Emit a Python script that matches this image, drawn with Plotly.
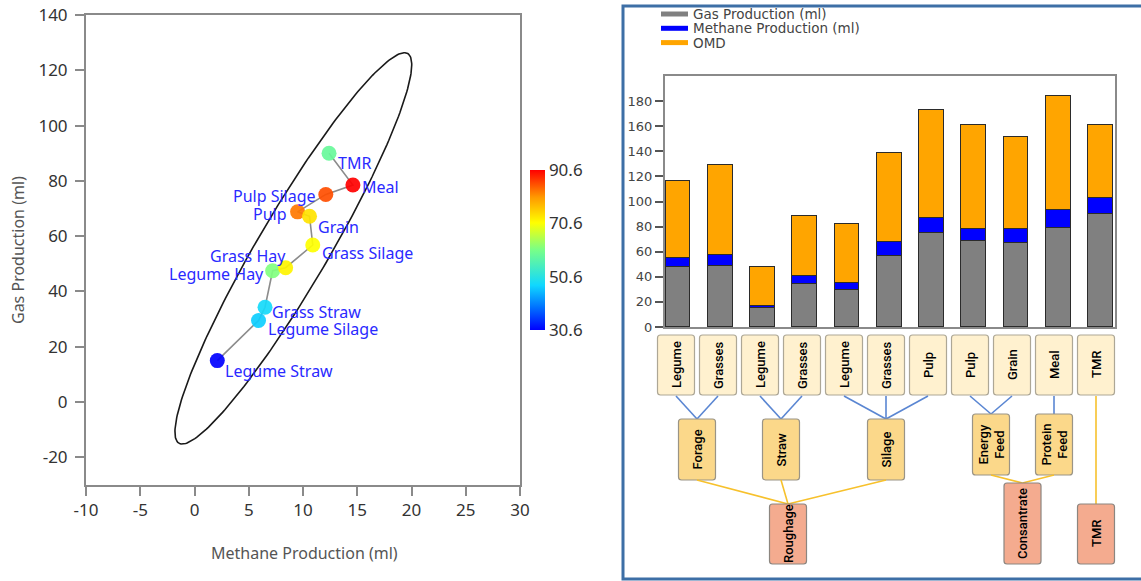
import numpy as np
import plotly.graph_objects as go

W, H = 1141, 581

# ---- data -------------------------------------------------------------
feed_names = ["Legume Hay", "Grass Hay", "Legume Straw", "Grass Straw", "Legume Silage",
              "Grass Silage", "Pulp Silage", "Pulp", "Grain", "Meal", "TMR"]
leaf_labels = ["Legume", "Grasses", "Legume", "Grasses", "Legume", "Grasses",
               "Pulp", "Pulp", "Grain", "Meal", "TMR"]
gas = [47.5, 48.6, 15.0, 34.3, 29.5, 56.8, 75.1, 68.8, 67.2, 78.5, 90.0]
methane = [7.2, 8.4, 2.1, 6.5, 5.9, 10.9, 12.1, 9.5, 10.6, 14.6, 12.4]
omd = [61.3, 71.8, 30.6, 48.0, 46.6, 70.7, 85.4, 82.6, 73.4, 90.6, 58.6]

group_names = ["Forage", "Straw", "Silage", "Energy<br>Feed", "Protein<br>Feed"]
group_members = [[0, 1], [2, 3], [4, 5, 6], [7, 8], [9]]
class_names = ["Roughage", "Consantrate", "TMR"]
class_members = [[0, 1, 2], [3, 4], []]
class_leaf = [None, None, 10]

x_ticks = list(range(-10, 31, 5))
y_ticks = list(range(-20, 141, 20))
omd_ticks = [30.6, 50.6, 70.6, 90.6]
bar_ticks = list(range(0, 181, 20))


def px(x):
    return x / W


def py(y):
    return 1 - y / H


fig = go.Figure()

# ---- left panel: methane vs gas, coloured by OMD -------------------------
xs, ys = np.array(methane), np.array(gas)
n = len(xs)
cov = np.cov(xs, ys)
m = n - 2
f95 = (m / 2) * (0.05 ** (-2 / m) - 1)          # F(0.95; 2, n-2)
k = np.sqrt(2 * (n - 1) / m * f95)
vals, vecs = np.linalg.eigh(cov)
t = np.linspace(0, 2 * np.pi, 240)
ring = vecs @ (np.sqrt(vals)[:, None] * np.vstack([np.cos(t), np.sin(t)])) * k
fig.add_trace(go.Scatter(x=xs.mean() + ring[0], y=ys.mean() + ring[1], mode="lines",
                         line=dict(color="#1a1a1a", width=1.6), hoverinfo="skip",
                         showlegend=False, xaxis="x", yaxis="y"))

order = np.argsort(gas)
fig.add_trace(go.Scatter(x=xs[order], y=ys[order], mode="lines",
                         line=dict(color="#8c8c8c", width=1.6), hoverinfo="skip",
                         showlegend=False, xaxis="x", yaxis="y"))

jet = [[0.0, "#0000ff"], [0.14, "#0070ff"], [0.28, "#10d8ff"], [0.5, "#78ff88"],
       [0.67, "#ffff00"], [0.83, "#ff9900"], [1.0, "#ff0000"]]
fig.add_trace(go.Scatter(
    x=methane, y=gas, mode="markers",
    marker=dict(size=15, color=omd, colorscale=jet, cmin=min(omd), cmax=max(omd), opacity=0.92,
                colorbar=dict(x=px(530), xanchor="left", thickness=15, len=160 / H,
                              xpad=0, ypad=0,
                              y=py(250), yanchor="middle", outlinewidth=0, ticks="",
                              tickvals=omd_ticks, ticktext=[f"{v:.1f}" for v in omd_ticks],
                              tickfont=dict(family="Noto Sans", size=17, color="#333"))),
    showlegend=False, hoverinfo="skip", xaxis="x", yaxis="y"))

# ---- right panel: stacked bars ------------------------------------------
cats = list(range(len(gas)))
bar_line = dict(color="#2b2b2b", width=1)
for vals_, col in [(gas, "#808080"), (methane, "#0000ff"), (omd, "#ffa500")]:
    fig.add_trace(go.Bar(x=cats, y=vals_, width=0.59, marker=dict(color=col, line=bar_line),
                         showlegend=False, xaxis="x2", yaxis="y2"))

axis_line = "#8a8a8a"
left_font = dict(family="Noto Sans", size=17, color="#333")
right_font = dict(family="DejaVu Sans", size=13, color="#444")

fig.update_layout(
    width=W, height=H, margin=dict(l=0, r=0, t=0, b=0, autoexpand=False),
    paper_bgcolor="white", plot_bgcolor="white", barmode="stack", bargap=0,
    xaxis=dict(domain=[px(86), px(520)], range=[-10, 30], tickvals=x_ticks,
               ticktext=[str(v) for v in x_ticks], automargin=False,
               showline=True, mirror=True, linecolor=axis_line, linewidth=2,
               ticks="outside", ticklen=9, tickwidth=2, tickcolor=axis_line,
               showgrid=False, zeroline=False, tickfont=left_font, anchor="y"),
    yaxis=dict(domain=[py(485), py(15)], range=[-30, 140], tickvals=y_ticks,
               ticktext=[str(v) for v in y_ticks], automargin=False,
               showline=True, mirror=True, linecolor=axis_line, linewidth=2,
               ticks="outside", ticklen=9, tickwidth=2, tickcolor=axis_line,
               showgrid=False, zeroline=False, tickfont=left_font, anchor="x",
               ticklabelstandoff=4),
    xaxis2=dict(domain=[px(665), px(1115)], range=[-0.308, 10.343], showticklabels=False,
                showline=True, mirror=True, linecolor=axis_line, linewidth=2, automargin=False,
                ticks="", showgrid=False, zeroline=False, anchor="y2"),
    yaxis2=dict(domain=[py(327), py(76)], range=[0, 200], tickvals=bar_ticks, automargin=False,
                showline=True, mirror=True, linecolor=axis_line, linewidth=2,
                ticks="outside", ticklen=8, tickwidth=1.5, tickcolor="#555",
                showgrid=False, zeroline=False, tickfont=right_font, anchor="x2"),
)

shapes, annotations = [], []

# point labels beside each feed
label_offset = {"TMR": ("left", 7, -10), "Meal": ("left", 7, -2),
                "Pulp Silage": ("right", -8, -2), "Pulp": ("right", -9, -2),
                "Grain": ("left", 6, -11), "Grass Silage": ("left", 7, -8),
                "Grass Hay": ("right", 2, 12), "Legume Hay": ("right", -7, -3),
                "Grass Straw": ("left", 5, -5), "Legume Silage": ("left", 7, -8),
                "Legume Straw": ("left", 6, -10)}
for name, mx, gy in zip(feed_names, methane, gas):
    anchor, dx, dy = label_offset[name]
    annotations.append(dict(x=mx, y=gy, xref="x", yref="y", text=name, showarrow=False,
                            xanchor=anchor, yanchor="middle", xshift=dx, yshift=dy,
                            font=dict(family="Noto Sans", size=16, color="#2a2aff")))

# axis titles of the left panel
annotations.append(dict(x=px(18), y=py(250), xref="paper", yref="paper", showarrow=False,
                        xanchor="center", yanchor="middle",
                        text="Gas Production (ml)", textangle=-90,
                        font=dict(family="Noto Sans", size=16, color="#555")))
annotations.append(dict(x=px(304), y=py(553), xref="paper", yref="paper", showarrow=False,
                        xanchor="center", yanchor="middle",
                        text="Methane Production (ml)",
                        font=dict(family="Noto Sans", size=16, color="#555")))

# frame around the right panel
shapes.append(dict(type="rect", xref="paper", yref="paper", x0=px(623), x1=px(1150),
                   y0=py(579), y1=py(6), line=dict(color="#3d6fa6", width=3)))

# legend of the bar chart
series_names = ["Gas Production (ml)", "Methane Production (ml)", "OMD"]
for i, (name, col) in enumerate(zip(series_names, ["#808080", "#0000ff", "#ffa500"])):
    yy = 14 + 14.3 * i
    shapes.append(dict(type="line", xref="paper", yref="paper", x0=px(661), x1=px(688),
                       y0=py(yy), y1=py(yy), line=dict(color=col, width=5)))
    annotations.append(dict(x=px(691), y=py(yy), xref="paper", yref="paper", showarrow=False,
                            xanchor="left", yanchor="middle", text=name,
                            font=dict(family="DejaVu Sans", size=13.5, color="#444")))

# feed classification tree under the bars
box_font = dict(family="Roboto", size=13, color="#000", weight=500)
leaf_x0, leaf_dx, half_w, rad = 676, 42, 18.5, 3


def rounded(x0, y0, x1, y1, r):
    pts = [("M", x0 + r, y0), ("L", x1 - r, y0), ("Q", x1, y0, x1, y0 + r),
           ("L", x1, y1 - r), ("Q", x1, y1, x1 - r, y1), ("L", x0 + r, y1),
           ("Q", x0, y1, x0, y1 - r), ("L", x0, y0 + r), ("Q", x0, y0, x0 + r, y0)]
    out = []
    for p in pts:
        cmd, coords = p[0], p[1:]
        xy = " ".join(f"{px(coords[i]):.5f},{py(coords[i + 1]):.5f}"
                      for i in range(0, len(coords), 2))
        out.append(f"{cmd} {xy}")
    return " ".join(out) + " Z"


def box(cx, top, bot, fill, edge, label):
    shapes.append(dict(type="path", xref="paper", yref="paper",
                       path=rounded(cx - half_w, top, cx + half_w, bot, rad),
                       fillcolor=fill, line=dict(color=edge, width=1.2), layer="above"))
    annotations.append(dict(x=px(cx), y=py((top + bot) / 2), xref="paper", yref="paper",
                            xanchor="center", yanchor="middle",
                            showarrow=False, text=label, textangle=-90, font=box_font))


def link(x0, y0, x1, y1, col):
    shapes.append(dict(type="line", xref="paper", yref="paper", x0=px(x0), y0=py(y0),
                       x1=px(x1), y1=py(y1), line=dict(color=col, width=1.6)))


leaf_cx = [leaf_x0 + leaf_dx * i for i in range(len(leaf_labels))]
for cx, lab in zip(leaf_cx, leaf_labels):
    box(cx, 335, 395, "#fff1cf", "#ada796", lab)

group_rows = [(419, 480), (419, 480), (419, 480), (414, 475), (414, 475)]
group_cx = []
for name, members, (top, bot) in zip(group_names, group_members, group_rows):
    cx = float(np.mean([leaf_cx[j] for j in members]))
    group_cx.append(cx)
    for j in members:
        link(leaf_cx[j], 396, cx, top, "#5a86d2")
    box(cx, top, bot, "#fbd88a", "#9a9486", name)

class_rows = [(504, 564), (483, 564), (504, 564)]
for name, members, leaf, (top, bot) in zip(class_names, class_members, class_leaf, class_rows):
    if members:
        cx = float(np.mean([group_cx[g] for g in members]))
        for g in members:
            link(group_cx[g], group_rows[g][1], cx, top, "#f7c12c")
    else:
        cx = leaf_cx[leaf]
        link(cx, 396, cx, top, "#f7c12c")
    box(cx, top, bot, "#f4ab8f", "#8c8680", name)

fig.update_layout(shapes=shapes, annotations=annotations)
fig.write_html("out.html")
